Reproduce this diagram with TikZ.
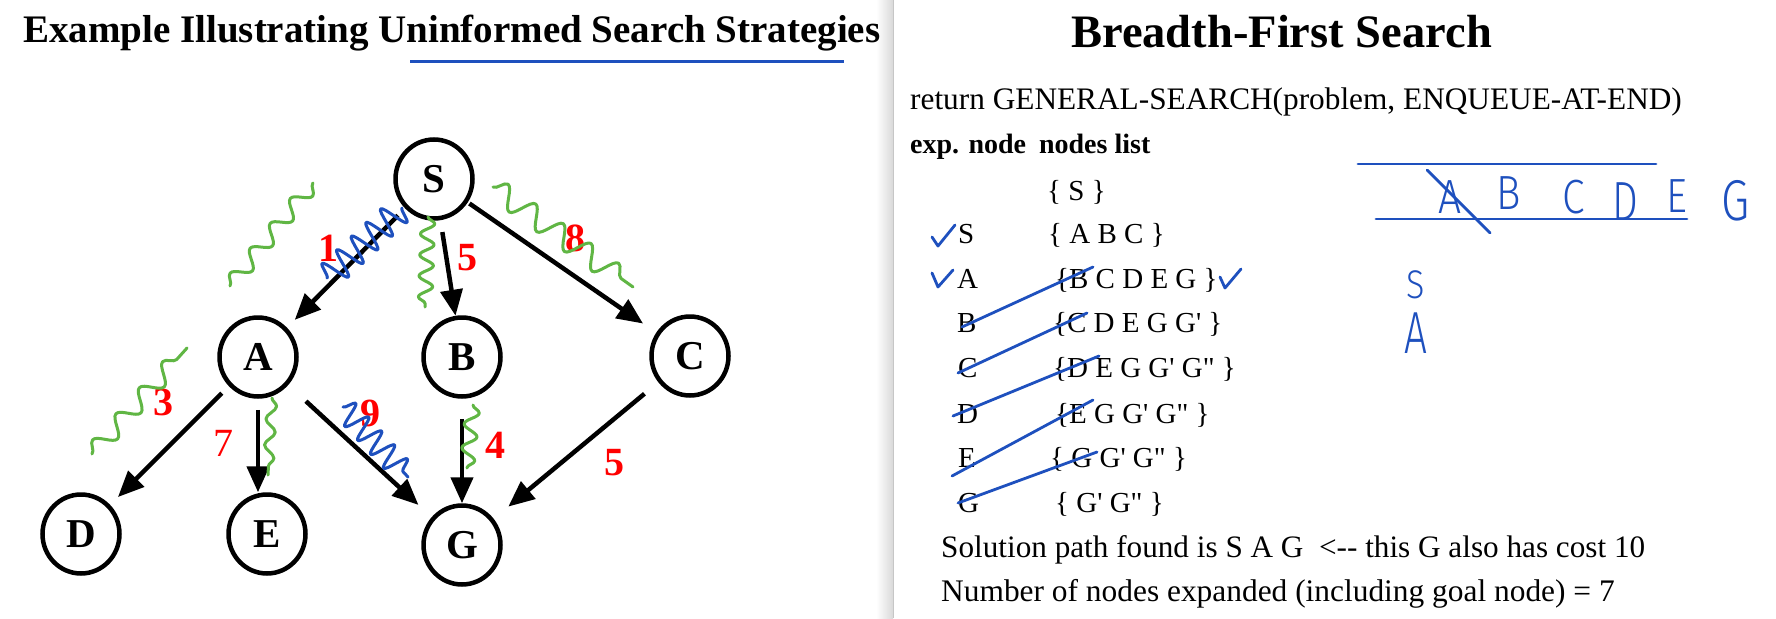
\documentclass[tikz,border=0pt]{standalone}
\usepackage{fontspec}
\setmainfont{Liberation Serif}
\newfontfamily\handfont{Fira Sans Light}
\usetikzlibrary{arrows.meta,decorations.pathmorphing,shapes.geometric}
\definecolor{inkblue}{RGB}{30,80,190}
\definecolor{inkgreen}{RGB}{96,182,68}
\definecolor{numred}{RGB}{255,0,0}
\newcommand\fs[1]{\fontsize{#1}{#1}\selectfont}
\newcommand\sq{\textquotesingle}
\newcommand\dq{\textquotedbl}
\begin{document}
\begin{tikzpicture}[x=1pt,y=-1pt,
  state/.style={ellipse,draw,line width=4.5pt,minimum width=77pt,minimum height=79pt,inner sep=0pt,font=\fs{41}\bfseries},
  edge/.style={line width=4.5pt,-{Triangle[length=26pt,width=22pt]}},
  cost/.style={text=numred,font=\fs{40}\bfseries,inner sep=0pt},
  txt/.style={anchor=base west,inner sep=0pt},
  rowtxt/.style={anchor=base west,inner sep=0pt,font=\fs{29}},
  squig/.style={line width=3pt,line cap=round,line join=round,decorate},
  ink/.style={inkblue,line width=2.8pt,line cap=round,line join=round},
  hand/.style={text=inkblue,inner sep=0pt,font=\handfont\fs{48}}
]
\useasboundingbox (0,0) rectangle (1776,618);
\fill[white] (0,0) rectangle (1776,618);
% panel divider shadow
\shade[left color=white,right color=gray!30] (876,0) rectangle (893,618);
\draw[gray!45,line width=1pt] (893,0) -- (893,618);

% ---------- left panel ----------
\node[txt,font=\fs{39}\bfseries] (ltitle) at (23,42) {Example Illustrating Uninformed Search Strategies};
\coordinate (ulA) at (410,62);
\coordinate (ulB) at (844,62);
\draw[inkblue,line width=3pt] (ulA) -- (ulB);

\node[state] (S) at (434,179) {S};
\node[state] (A) at (258,357) {A};
\node[state] (B) at (462,357) {B};
\node[state] (C) at (690,356) {C};
\node[state] (D) at (81,534) {D};
\node[state] (E) at (267,534) {E};
\node[state] (G) at (462,545) {\raisebox{-3pt}{G}};

\draw[edge,shorten <=10pt,shorten >=11pt] (S) -- (A);
\draw[edge,shorten <=12pt] (S) -- (B);
\draw[edge,shorten <=2pt,shorten >=16pt] (S) -- (C);
\draw[edge,shorten <=10pt,shorten >=11pt] (A) -- (D);
\draw[edge] ([yshift=-11pt]A.south) -- (A.south |- E.north);
\draw[edge,shorten <=24pt,shorten >=18pt] (A) -- (G);
\draw[edge,shorten <=20pt] (B) -- (G);
\draw[edge,shorten <=18pt,shorten >=19pt] (C) -- (G);

\node[cost] (c1) at (328,248) {1};
\node[cost] (c5a) at (467,258) {5};
\node[cost] (c8) at (575,238) {8};
\node[cost] (c3) at (163,402) {3};
\node[cost,font=\fs{40}] (c7) at (223,443) {7};
\node[cost] (c9) at (370,413) {9};
\node[cost] (c4) at (495,445) {4};
\node[cost] (c5b) at (614,463) {5};

% green squiggles
\draw[squig,inkgreen,decoration={snake,amplitude=8pt,segment length=32pt}] (230,286) -- (313,183);
\draw[squig,inkgreen,decoration={snake,amplitude=7pt,segment length=21pt}] (428,217) -- (425,307);
\draw[squig,inkgreen,decoration={snake,amplitude=11pt,segment length=34pt}] (493,187) -- (633,287);
\draw[squig,inkgreen,decoration={snake,amplitude=9pt,segment length=35pt}] (92,454) -- (187,348);
\draw[squig,inkgreen,decoration={snake,amplitude=5pt,segment length=26pt}] (272,398) -- (268,475);
\draw[squig,inkgreen,decoration={snake,amplitude=7pt,segment length=24pt}] (473,405) -- (467,468);
% blue squiggles
\draw[squig,inkblue,decoration={snake,amplitude=14pt,segment length=20pt}] (402,208) -- (327,278);
\draw[squig,inkblue,decoration={snake,amplitude=12pt,segment length=19pt}] (343,407) -- (408,477);

% ---------- right panel ----------
\node[txt,font=\fs{46.5}\bfseries] (rtitle) at (1071,48) {Breadth-First Search};
\node[txt,font=\fs{31.3}] (ret) at (910,109) {return GENERAL-SEARCH(problem, ENQUEUE-AT-END)};
\node[txt,font=\fs{28}\bfseries] (hdr) at (910,153) {exp. node\hspace{6pt} nodes list};

\node[rowtxt] (r0) at (1047,200) {\{ S \}};
\node[rowtxt] (e1) at (958,243) {S};
\node[rowtxt] (r1) at (1048,243) {\{ A B C \}};
\node[rowtxt] (e2) at (957,288) {A};
\node[rowtxt] (r2) at (1055,288) {\{B C D E G \}};
\node[rowtxt] (e3) at (957,332) {B};
\node[rowtxt] (r3) at (1053,332) {\{C D E G G\sq\ \}};
\node[rowtxt] (e4) at (958,377) {C};
\node[rowtxt] (r4) at (1053,377) {\{D E G G\sq\ G\dq\ \}};
\node[rowtxt] (e5) at (957,423) {D};
\node[rowtxt] (r5) at (1055,423) {\{E G G\sq\ G\dq\ \}};
\node[rowtxt] (e6) at (958,467) {E};
\node[rowtxt] (r6) at (1050,467) {\{ G G\sq\ G\dq\ \}};
\node[rowtxt] (e7) at (958,512) {G};
\node[rowtxt] (r7) at (1055,512) {\{ G\sq\ G\dq\ \}};

\node[txt,font=\fs{31.2}] (sol) at (941,557) {Solution path found is S A G \ <-{}- this G also has cost 10};
\node[txt,font=\fs{31.4}] (num) at (941,601) {Number of nodes expanded (including goal node) = 7};

% check marks
\draw[ink] (932,237) -- (938,246) -- (955,225);
\draw[ink] (932,273) -- (938,287) -- (953,270);
\draw[ink] (1220,277) -- (1225,288) -- (1241,269);
% strike-through lines
\draw[ink] (962,327) -- (1093,267);
\draw[ink] (958,373) -- (1087,313);
\draw[ink] (953,416) -- (1099,356);
\draw[ink] (952,476) -- (1093,400);
\draw[ink] (958,503) -- (1097,452);

% handwritten queue
\draw[ink] (1358,164) -- (1656,164);
\draw[ink] (1376,219) -- (1687,219);
\node[hand] (hA) at (1450,197) {\scalebox{0.85}[1]{A}};
\node[hand] (hB) at (1509,193) {\scalebox{0.85}[1]{B}};
\node[hand] (hC) at (1574,197) {\scalebox{0.85}[1]{C}};
\node[hand] (hD) at (1625,202) {\scalebox{0.85}[1.15]{D}};
\node[hand] (hE) at (1677,196) {\scalebox{0.85}[1]{E}};
\node[hand] (hG) at (1736,201) {\scalebox{0.95}[1.2]{G}};
\draw[ink] (1427,170) -- (1490,233);
\node[hand,font=\handfont\fs{40}] (hS) at (1416,285) {\scalebox{0.85}[1]{S}};
\node[hand,font=\handfont\fs{54}] (hA2) at (1416,333) {\scalebox{0.75}[1.1]{A}};
\end{tikzpicture}
\end{document}
